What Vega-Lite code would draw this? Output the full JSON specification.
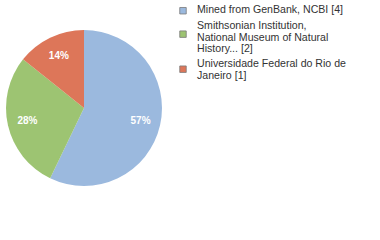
{
  "$schema": "https://vega.github.io/schema/vega-lite/v6.json",
  "padding": 0,
  "spacing": 10,
  "background": "white",
  "config": {"view": {"stroke": null}},
  "datasets": {
    "slices": [
      {"source": "Mined from GenBank, NCBI [4]", "count": 4, "order": 1, "pct": "57%"},
      {"source": "Smithsonian Institution, National Museum of Natural History... [2]", "count": 2, "order": 2, "pct": "28%"},
      {"source": "Universidade Federal do Rio de Janeiro [1]", "count": 1, "order": 3, "pct": "14%"}
    ],
    "legendLines": [
      {"text": "Mined from GenBank, NCBI [4]", "row": 0},
      {"text": "Smithsonian Institution,", "row": 1.4},
      {"text": "National Museum of Natural", "row": 2.4},
      {"text": "History... [2]", "row": 3.4},
      {"text": "Universidade Federal do Rio de", "row": 4.7},
      {"text": "Janeiro [1]", "row": 5.7}
    ],
    "legendKeys": [
      {"source": "Mined from GenBank, NCBI [4]", "row": -0.17},
      {"source": "Smithsonian Institution, National Museum of Natural History... [2]", "row": 1.85},
      {"source": "Universidade Federal do Rio de Janeiro [1]", "row": 4.87}
    ]
  },
  "hconcat": [
    {
      "width": 168,
      "height": 216,
      "data": {"name": "slices"},
      "encoding": {
        "theta": {"field": "count", "type": "quantitative", "stack": true},
        "order": {"field": "order", "type": "quantitative"}
      },
      "layer": [
        {
          "mark": {"type": "arc", "outerRadius": 78},
          "encoding": {
            "color": {
              "field": "source",
              "type": "nominal",
              "scale": {
                "domain": [
                  "Mined from GenBank, NCBI [4]",
                  "Smithsonian Institution, National Museum of Natural History... [2]",
                  "Universidade Federal do Rio de Janeiro [1]"
                ],
                "range": ["#9bb9de", "#9dc472", "#dd7659"]
              },
              "legend": null
            }
          }
        },
        {
          "mark": {"type": "text", "radius": 58, "color": "white", "font": "Liberation Sans", "fontSize": 10, "fontWeight": "bold"},
          "encoding": {
            "text": {"field": "pct", "type": "nominal"}
          }
        }
      ]
    },
    {
      "width": 180,
      "height": 89,
      "layer": [
        {
          "data": {"name": "legendKeys"},
          "mark": {"type": "point", "shape": "square", "size": 42, "filled": true, "stroke": "#7a7a7a", "strokeWidth": 0.8, "opacity": 1},
          "encoding": {
            "x": {"datum": 0, "type": "quantitative", "scale": {"domain": [0, 1]}, "axis": null},
            "y": {"field": "row", "type": "quantitative", "scale": {"domain": [-1.095, 6.577], "reverse": true, "zero": false, "nice": false}, "axis": null},
            "fill": {
              "field": "source",
              "type": "nominal",
              "scale": {
                "domain": [
                  "Mined from GenBank, NCBI [4]",
                  "Smithsonian Institution, National Museum of Natural History... [2]",
                  "Universidade Federal do Rio de Janeiro [1]"
                ],
                "range": ["#9bb9de", "#9dc472", "#dd7659"]
              },
              "legend": null
            }
          }
        },
        {
          "data": {"name": "legendLines"},
          "mark": {"type": "text", "align": "left", "baseline": "alphabetic", "dx": 14, "font": "Liberation Sans", "fontSize": 10.6, "color": "#333333"},
          "encoding": {
            "x": {"datum": 0, "type": "quantitative", "scale": {"domain": [0, 1]}, "axis": null},
            "y": {"field": "row", "type": "quantitative", "scale": {"domain": [-1.095, 6.577], "reverse": true, "zero": false, "nice": false}, "axis": null},
            "text": {"field": "text", "type": "nominal"}
          }
        }
      ]
    }
  ]
}
